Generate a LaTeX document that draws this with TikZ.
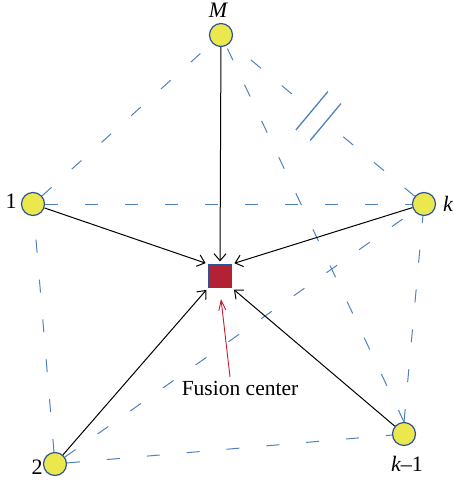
\documentclass[tikz,border=0pt]{standalone}
\usepackage{fontspec}
\setmainfont{Liberation Serif}
\usetikzlibrary{arrows.meta,calc}
\definecolor{dashblue}{RGB}{79,129,189}
\definecolor{nodeyel}{RGB}{234,232,76}
\definecolor{nodeedge}{RGB}{46,84,150}
\definecolor{fcred}{RGB}{178,34,52}
\definecolor{arrred}{RGB}{192,30,50}
\begin{document}
\begin{tikzpicture}[x=1pt,y=-1pt,
  sensor/.style={circle,draw=nodeedge,fill=nodeyel,line width=1.2pt,minimum size=23pt,inner sep=0pt},
  fusion/.style={rectangle,draw=nodeedge,fill=fcred,line width=1.1pt,minimum size=23pt,inner sep=0pt},
  link/.style={draw=dashblue,line width=1pt,dash pattern=on 13pt off 27pt},
  breakline/.style={draw=dashblue,line width=1.3pt},
  report/.style={draw=black,line width=1pt,-{Straight Barb[length=7pt,width=12pt]},shorten >=2.5pt},
  lbl/.style={font=\fontsize{22}{26}\selectfont,inner sep=0pt}
]
\useasboundingbox (0,0) rectangle (453,482);

% sensors and fusion center
\node[sensor] (M)  at (221,35)  {};
\node[sensor] (n1) at (33,204)  {};
\node[sensor] (k)  at (424,204) {};
\node[sensor] (n2) at (55,464)  {};
\node[sensor] (k1) at (404,434) {};
\node[fusion] (fc) at (220,276) {};

% labels
\node[lbl] (lM)  at (218,10)  {\itshape M};
\node[lbl] (l1)  at (11,201)  {1};
\node[lbl] (lk)  at (448,204) {\itshape k};
\node[lbl] (l2)  at (37,467)  {2};
\node[lbl] (lk1) at (407,464) {{\itshape k}–1};
\node[lbl,font=\fontsize{21.5}{25}\selectfont] (lfc) at (240,388) {Fusion center};

% dashed links
\draw[link] (n1) -- (M);
\draw[link] (k) -- (M);
\draw[link] (n1) -- (k);
\draw[link] (n2) -- (n1);
\draw[link] (n2) -- (k1);
\draw[link] (k1.north) -- (k);
\draw[link] (n2) -- (k);
\draw[link] (k1.north) -- (M);

% broken link marker on M--k
\coordinate (b1) at ($(M)!0.448!(k)$);
\coordinate (b2) at ($(M)!0.515!(k)$);
\fill[white] ($(b1)!25pt!90:(k)$) -- ($(b1)!25pt!-90:(k)$) -- ($(b2)!24pt!-90:(k)$) -- ($(b2)!24pt!90:(k)$) -- cycle;
\draw[breakline] ($(b1)!25pt!90:(k)$) -- ($(b1)!25pt!-90:(k)$);
\draw[breakline] ($(b2)!24pt!90:(k)$) -- ($(b2)!24pt!-90:(k)$);

% reports to fusion center
\draw[report] (M)  -- (fc.north);
\draw[report] (n1) -- (fc.north west);
\draw[report] (k)  -- (fc.north east);
\draw[report] (n2) -- (fc.south west);
\draw[report] (k1) -- (fc.south east);

% pointer from label
\coordinate (rs) at (230,377);
\coordinate (rt) at (221,299);
\draw[arrred,line width=0.9pt,-{Straight Barb[length=10pt,width=7pt]}] (rs) -- (rt);
\end{tikzpicture}
\end{document}
